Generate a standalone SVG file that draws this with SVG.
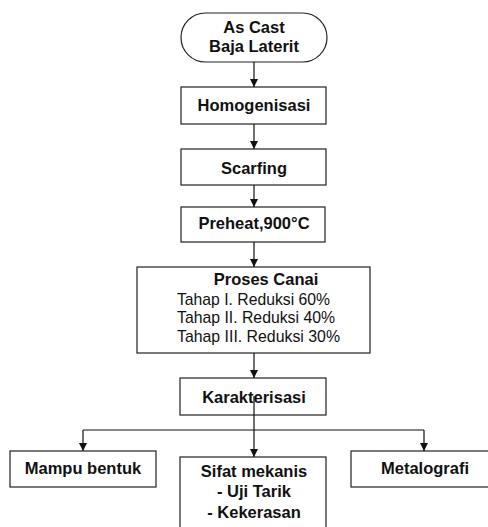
<svg xmlns="http://www.w3.org/2000/svg" width="488" height="527" viewBox="0 0 488 527">
<defs>
<marker id="ah" viewBox="0 0 10 10" refX="10" refY="5" markerWidth="8" markerHeight="8" markerUnits="userSpaceOnUse" orient="auto">
<path d="M0,0 L10,5 L0,10 Z" fill="#111"/>
</marker>
<style>
.box{fill:#fff;stroke:#222;stroke-width:1.2}
.t{font-family:"Liberation Sans",Arial,sans-serif;font-size:16.5px;font-weight:bold;fill:#111;text-anchor:middle}
.r{font-family:"Liberation Sans",Arial,sans-serif;font-size:17px;fill:#111}
.c{fill:none;stroke:#111;stroke-width:1.2;marker-end:url(#ah)}
.l{fill:none;stroke:#111;stroke-width:1.2}
</style>
</defs>
<rect width="488" height="527" fill="#fff"/>
<g id="start">
<rect class="box" x="181" y="13" width="146" height="49" rx="24.5"/>
<text class="t" x="254" y="33">As Cast</text>
<text class="t" x="254" y="52">Baja Laterit</text>
</g>
<g id="homogenisasi">
<rect class="box" x="181" y="87" width="145" height="37"/>
<text class="t" x="254" y="111">Homogenisasi</text>
</g>
<g id="scarfing">
<rect class="box" x="181" y="149" width="145" height="36"/>
<text class="t" x="254" y="174">Scarfing</text>
</g>
<g id="preheat">
<rect class="box" x="181" y="207" width="144" height="35"/>
<text class="t" x="254" y="229">Preheat,900°C</text>
</g>
<g id="proses">
<rect class="box" x="137" y="267" width="233" height="86"/>
<text class="t" x="266" y="285">Proses Canai</text>
<text class="r" x="177" y="305" textLength="153" lengthAdjust="spacingAndGlyphs">Tahap I. Reduksi 60%</text>
<text class="r" x="177" y="323" textLength="158" lengthAdjust="spacingAndGlyphs">Tahap II. Reduksi 40%</text>
<text class="r" x="177" y="342" textLength="163" lengthAdjust="spacingAndGlyphs">Tahap III. Reduksi 30%</text>
</g>
<g id="karakterisasi">
<rect class="box" x="180" y="378" width="146" height="37"/>
<text class="t" x="254" y="403">Karakterisasi</text>
</g>
<g id="mampu">
<rect class="box" x="10" y="451" width="146" height="36"/>
<text class="t" x="83" y="474">Mampu bentuk</text>
</g>
<g id="sifat">
<rect class="box" x="180" y="457" width="146" height="80"/>
<text class="t" x="254" y="477">Sifat mekanis</text>
<text class="t" x="254" y="497">- Uji Tarik</text>
<text class="t" x="254" y="518">- Kekerasan</text>
</g>
<g id="metalografi">
<rect class="box" x="351" y="451" width="145" height="36"/>
<text class="t" x="425" y="474">Metalografi</text>
</g>
<g id="connectors">
<line class="c" x1="254" y1="62" x2="254" y2="87"/>
<line class="c" x1="254" y1="124" x2="254" y2="149"/>
<line class="c" x1="254" y1="185" x2="254" y2="207"/>
<line class="c" x1="254" y1="242" x2="254" y2="267"/>
<line class="c" x1="254" y1="353" x2="254" y2="378"/>
<line class="c" x1="254" y1="396" x2="254" y2="457"/>
<line class="l" x1="83" y1="430" x2="424" y2="430"/>
<line class="c" x1="83" y1="430" x2="83" y2="451"/>
<line class="c" x1="424" y1="430" x2="424" y2="451"/>
</g>
</svg>
